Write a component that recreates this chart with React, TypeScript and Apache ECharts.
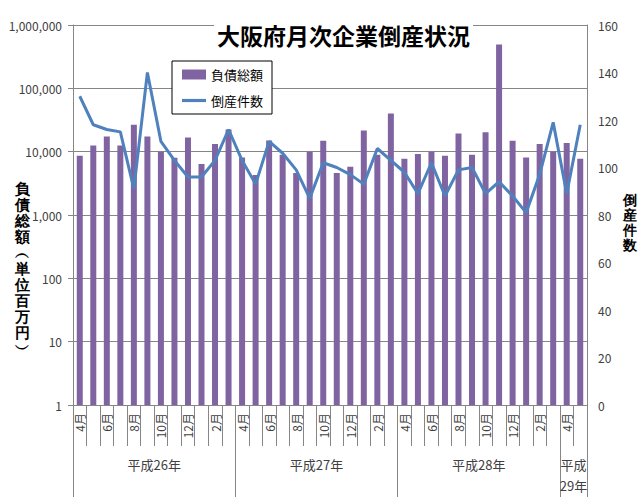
import React, { useEffect, useRef } from "react";
import * as echarts from "echarts";

const months = ["4月", "5月", "6月", "7月", "8月", "9月", "10月", "11月", "12月", "1月", "2月", "3月"];
const categories = [...months, ...months, ...months, "4月", "5月"];

// 負債総額（百万円）
const debtValues = [
  8600, 12500, 17400, 12500, 26700, 17400, 10000, 8000, 16800, 6400, 13200, 22300,
  8100, 4300, 15000, 8900, 4600, 10000, 14900, 4600, 5800, 21500, 8900, 40000,
  7700, 9200, 10000, 8600, 19300, 8900, 20200, 493000, 14900, 8100, 13200, 10000,
  13700, 7700,
];

// 倒産件数
const countValues = [
  130, 118, 116, 115, 91, 140, 111, 103, 96, 96, 103, 116,
  103, 93, 111, 106, 99, 87, 102, 100, 97, 93, 108, 103,
  98, 89, 102, 88, 99, 100, 89, 94, 88, 81, 97, 119,
  89, 118,
];

const groupNames = ["平成26年", "平成27年", "平成28年", "平成\n29年"];
const groupLabelIndex = [6, 18, 30, 37];
const groupStartIndex = [0, 12, 24, 36];

const title = "大阪府月次企業倒産状況";
const leftAxisName = ["負", "債", "総", "額", "︵", "単", "位", "百", "万", "円", "︶"];
const rightAxisName = ["倒", "産", "件", "数"];

const FONT = "'Noto Sans CJK JP', 'Noto Sans', sans-serif";
const GRID_COLOR = "#868686";

export default function App() {
  const ref = useRef<HTMLDivElement>(null);

  useEffect(() => {
    document.body.style.margin = "0";
    if (!ref.current) return;
    const chart = echarts.init(ref.current, undefined, { renderer: "svg" });
    chart.setOption({
      animation: false,
      backgroundColor: "#fff",
      textStyle: { fontFamily: FONT },
      title: {
        text: title,
        left: 214,
        top: 21,
        padding: [2, 3],
        backgroundColor: "#fff",
        textStyle: { fontSize: 23, fontWeight: "bold", color: "#000", fontFamily: FONT },
      },
      legend: {
        orient: "vertical",
        left: 172,
        top: 61,
        padding: [7, 9, 7, 10],
        itemGap: 13,
        itemWidth: 24,
        itemHeight: 10,
        borderColor: "#000",
        borderWidth: 1,
        backgroundColor: "#fff",
        textStyle: { fontSize: 13, color: "#000", fontFamily: FONT },
        data: [
          { name: "負債総額", icon: "rect" },
          { name: "倒産件数", icon: "path://M0,0 L24,0 L24,3.2 L0,3.2 Z" },
        ],
      },
      grid: { left: 73, right: 53, top: 25, bottom: 97 },
      xAxis: [
        {
          type: "category",
          data: categories,
          position: "bottom",
          axisLine: { show: true, lineStyle: { color: GRID_COLOR } },
          axisTick: { show: true, interval: 0, length: 41, lineStyle: { color: GRID_COLOR } },
          axisLabel: {
            interval: 1,
            rotate: 90,
            margin: 8,
            fontSize: 12,
            color: "#404040",
            fontFamily: FONT,
          },
        },
        {
          type: "category",
          data: categories,
          position: "bottom",
          axisLine: { show: false },
          axisTick: {
            show: true,
            interval: (idx: number) => groupStartIndex.includes(idx),
            length: 92,
            lineStyle: { color: GRID_COLOR },
          },
          axisLabel: {
            interval: (idx: number) => groupLabelIndex.includes(idx),
            formatter: (_v: string, idx: number) => {
              const g = groupLabelIndex.indexOf(idx);
              return g >= 0 ? groupNames[g] : "";
            },
            margin: 49,
            fontSize: 13,
            lineHeight: 21,
            padding: [0, 13.5, 0, 0],
            color: "#404040",
            fontFamily: FONT,
          },
        },
      ],
      yAxis: [
        {
          type: "log",
          logBase: 10,
          min: 1,
          max: 1000000,
          axisLine: { show: true, lineStyle: { color: GRID_COLOR } },
          axisTick: { show: true, length: 5, lineStyle: { color: GRID_COLOR } },
          splitLine: { show: true, lineStyle: { color: GRID_COLOR, width: 1 } },
          axisLabel: {
            margin: 11,
            fontSize: 12,
            color: "#404040",
            fontFamily: FONT,
            formatter: (v: number) => Math.round(v).toLocaleString("en-US"),
          },
        },
        {
          type: "value",
          min: 0,
          max: 160,
          interval: 20,
          position: "right",
          axisLine: { show: true, lineStyle: { color: GRID_COLOR } },
          axisTick: { show: false },
          splitLine: { show: false },
          axisLabel: { margin: 11, fontSize: 12, color: "#404040", fontFamily: FONT },
        },
      ],
      graphic: [
        {
          type: "text",
          left: 15,
          top: 180,
          style: {
            text: leftAxisName.join("\n"),
            fontSize: 15,
            lineHeight: 16,
            fontWeight: "bold",
            fill: "#000",
            font: `bold 15px ${FONT}`,
            textAlign: "center",
          },
        },
        {
          type: "text",
          left: 623,
          top: 192,
          style: {
            text: rightAxisName.join("\n"),
            fontSize: 14,
            lineHeight: 15,
            fontWeight: "bold",
            fill: "#000",
            font: `bold 14px ${FONT}`,
            textAlign: "center",
          },
        },
      ],
      series: [
        {
          name: "負債総額",
          type: "bar",
          xAxisIndex: 0,
          yAxisIndex: 0,
          data: debtValues,
          barWidth: 6,
          itemStyle: { color: "#8064A2" },
          z: 2,
        },
        {
          name: "倒産件数",
          type: "line",
          xAxisIndex: 0,
          yAxisIndex: 1,
          data: countValues,
          symbol: "none",
          showSymbol: false,
          lineStyle: { color: "#4F81BD", width: 3 },
          itemStyle: { color: "#4F81BD" },
          z: 3,
        },
      ],
    });
    return () => chart.dispose();
  }, []);

  return <div ref={ref} style={{ width: 640, height: 502 }} />;
}
